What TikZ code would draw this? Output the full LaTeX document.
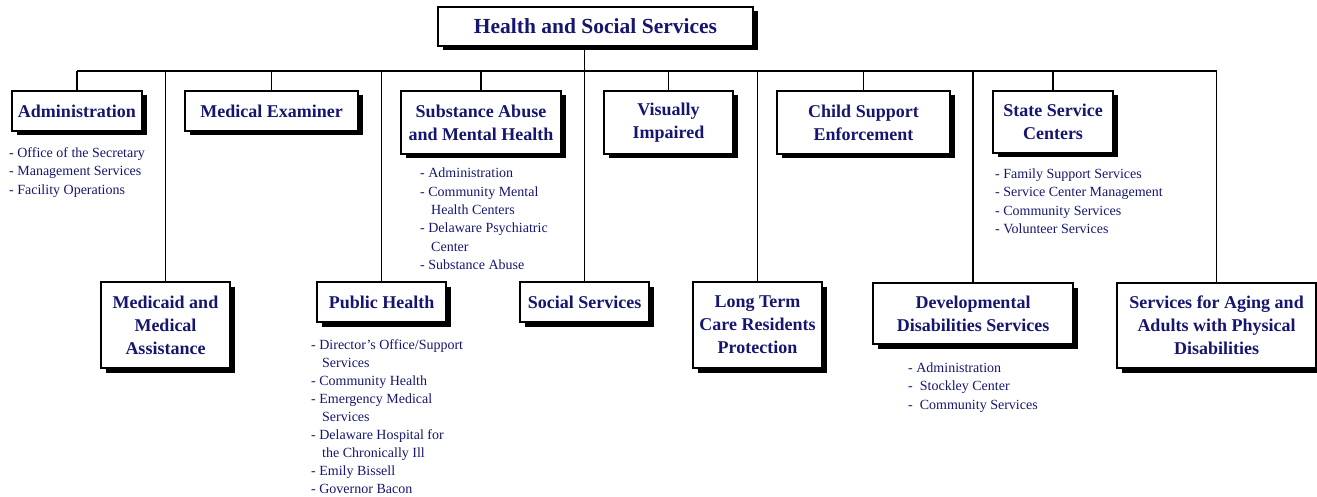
\documentclass[tikz,border=0pt]{standalone}
\usepackage{fontspec}
\setmainfont{Liberation Serif}
\usetikzlibrary{shadows}
\definecolor{deptblue}{RGB}{22,22,112}

\begin{document}
\begin{tikzpicture}[x=1pt, y=-1pt,
  unit/.style={draw, line width=1.3pt, fill=white, align=center, inner sep=0pt,
               font=\fontsize{18}{23}\selectfont\bfseries, text=deptblue,
               general shadow={fill=black, shadow xshift=4.5pt, shadow yshift=-4.5pt}},
  items/.style={anchor=north west, align=left, inner sep=0pt, text=deptblue,
                font=\fontsize{14}{18.3}\selectfont},
  link/.style={line width=1.2pt}
]
  \useasboundingbox (0,0) rectangle (1317,497);

  % department
  \node[unit, minimum width=315pt, minimum height=39pt,
        font=\fontsize{21.5}{26}\selectfont\bfseries] (top) at (595.5,26.5)
        {Health and Social Services};

  % upper row
  \node[unit, minimum width=130pt, minimum height=40pt] (adm)   at (77,111)    {Administration};
  \node[unit, minimum width=173pt, minimum height=40pt] (medex) at (271.5,111) {Medical Examiner};
  \node[unit, minimum width=160pt, minimum height=63pt] (subst) at (481,122.5) {Substance Abuse\\and Mental Health};
  \node[unit, minimum width=129pt, minimum height=63pt] (vis)   at (668.5,122.5) {Visually\\Impaired};
  \node[unit, minimum width=173pt, minimum height=63pt] (child) at (863.5,122.5) {Child Support\\Enforcement};
  \node[unit, minimum width=120pt, minimum height=62pt] (state) at (1053,122)  {State Service\\Centers};

  % lower row
  \node[unit, minimum width=129pt, minimum height=86pt] (medicaid) at (165.5,325) {Medicaid and\\Medical\\Assistance};
  \node[unit, minimum width=129pt, minimum height=40pt] (pubh)     at (381.5,302) {Public Health};
  \node[unit, minimum width=129pt, minimum height=40pt] (social)   at (584.5,302) {Social Services};
  \node[unit, minimum width=129pt, minimum height=86pt] (ltc)      at (757.5,325) {Long Term\\Care Residents\\Protection};
  \node[unit, minimum width=200pt, minimum height=61pt] (dev)      at (973,313.5) {Developmental\\Disabilities Services};
  \node[unit, minimum width=199pt, minimum height=85pt] (aging)    at (1216.5,325.5) {Services for Aging and\\Adults with Physical\\Disabilities};

  % divisions
  \node[items] (admlist) at (9,147.5)
    {- Office of the Secretary\\- Management Services\\- Facility Operations};
  \node[items] (substlist) at (420,168)
    {- Administration\\- Community Mental\\\hspace*{11pt}Health Centers\\- Delaware Psychiatric\\\hspace*{11pt}Center\\- Substance Abuse};
  \node[items] (statelist) at (995,168.5)
    {- Family Support Services\\- Service Center Management\\- Community Services\\- Volunteer Services};
  \node[items, font=\fontsize{14}{18}\selectfont] (pubhlist) at (311,339.5)
    {- Director's Office/Support\\\hspace*{11pt}Services\\- Community Health\\- Emergency Medical\\\hspace*{11pt}Services\\- Delaware Hospital for\\\hspace*{11pt}the Chronically Ill\\- Emily Bissell\\- Governor Bacon};
  \node[items] (devlist) at (908,362.5)
    {- Administration\\-\ \ Stockley Center\\-\ \ Community Services};

  % connectors
  \coordinate (bus) at (0,71);
  \draw[link] (adm.north |- bus) -- (aging.north |- bus);
  \draw[link] (top.south -| social.north) -- (social.north);
  \foreach \n in {adm,medex,subst,vis,child,state,medicaid,pubh,ltc,dev,aging}
    \draw[link] (\n.north |- bus) -- (\n.north);
\end{tikzpicture}
\end{document}
